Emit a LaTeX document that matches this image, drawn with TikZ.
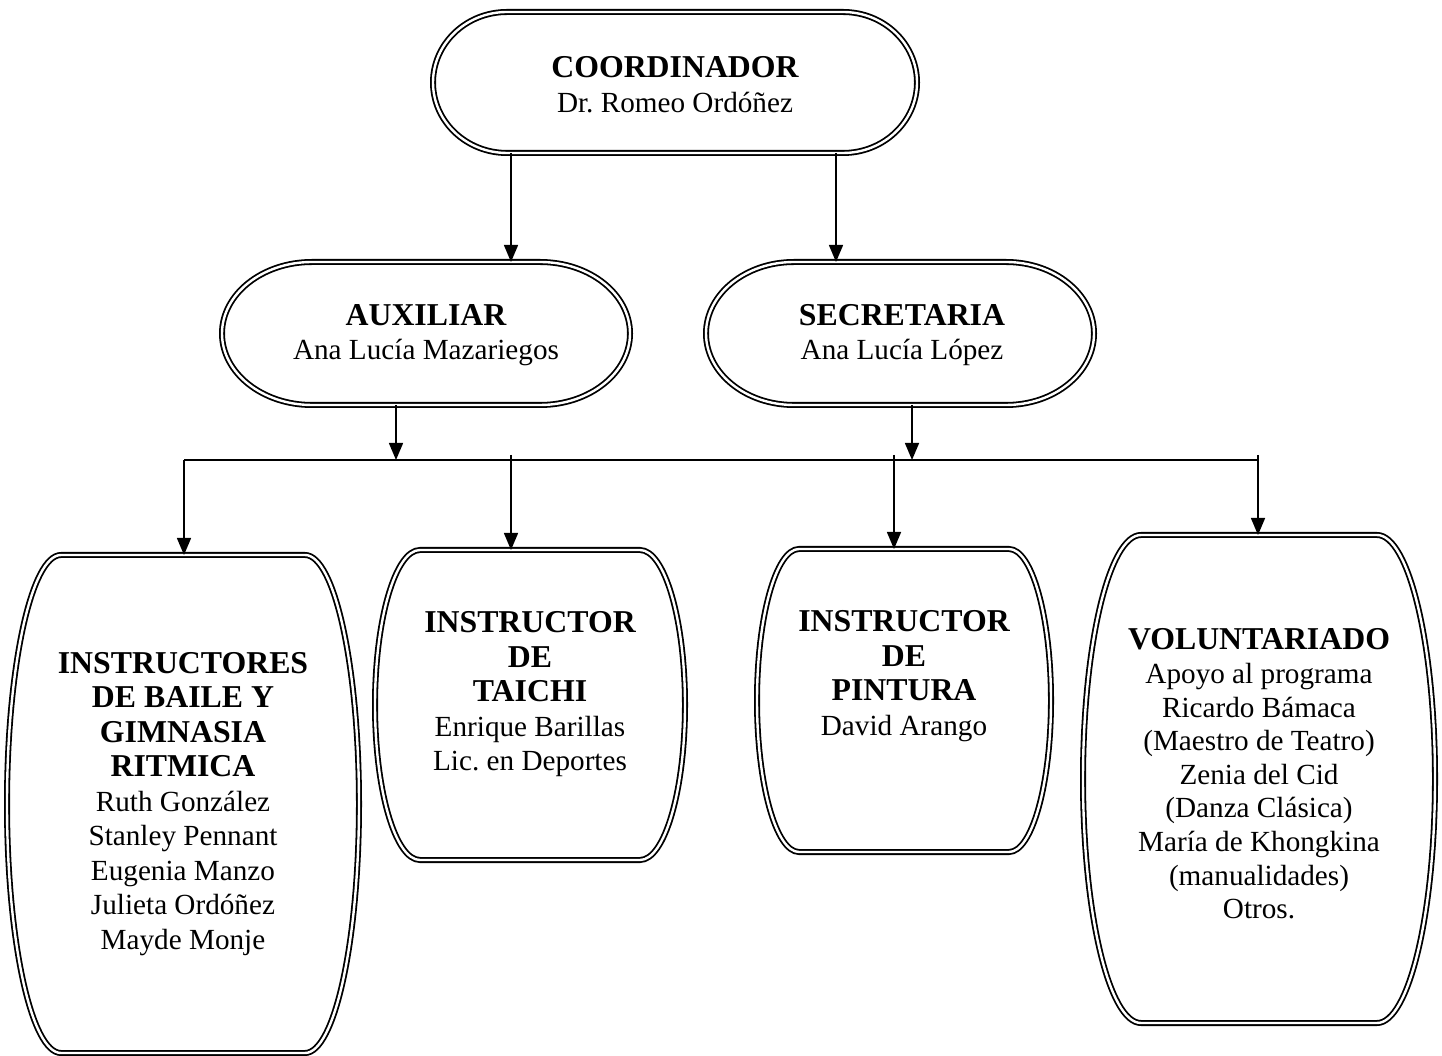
\documentclass[tikz,border=0pt]{standalone}
\usepackage{fontspec}
\setmainfont{Liberation Serif}
\usetikzlibrary{arrows.meta,calc}
\frenchspacing
\newcommand\hd[1]{{\fontsize{31.8}{34.5}\selectfont\bfseries #1}}
\newcommand\stadiumpath[3]{%
  \draw[dbl] ([xshift=#2]#1.north west) -- ([xshift=-#2]#1.north east)
    arc[start angle=90,end angle=-90,x radius=#2,y radius=#3]
    -- ([xshift=#2]#1.south west)
    arc[start angle=270,end angle=90,x radius=#2,y radius=#3] -- cycle;}
\newcommand\barrelpath[5]{% cx, ytop, ybot, W, a
  \draw[dbl] ({#1-#5},#2) -- ({#1+#5},#2)
   .. controls ({#1+#5+0.55*(#4-#5)},#2) and ({#1+#4},{#2-0.45*(#2-#3)/2}) .. ({#1+#4},{(#2+#3)/2})
   .. controls ({#1+#4},{#3+0.45*(#2-#3)/2}) and ({#1+#5+0.55*(#4-#5)},#3) .. ({#1+#5},#3)
   -- ({#1-#5},#3)
   .. controls ({#1-#5-0.55*(#4-#5)},#3) and ({#1-#4},{#3+0.45*(#2-#3)/2}) .. ({#1-#4},{(#2+#3)/2})
   .. controls ({#1-#4},{#2-0.45*(#2-#3)/2}) and ({#1-#5-0.55*(#4-#5)},#2) .. cycle;}
\begin{document}
\begin{tikzpicture}[x=1pt,y=1pt,
  dbl/.style={draw=black, line width=1.8pt, double=white, double distance=2.4pt},
  arr/.style={line width=1.5pt, -{Triangle[length=17pt,width=14pt]}},
  ln/.style={line width=1.5pt},
  txt/.style={align=center, inner sep=0pt, font=\fontsize{29.2}{34.5}\selectfont},
  boxnode/.style={inner sep=0pt, outer sep=0pt, draw=none},
]
\useasboundingbox (0,0) rectangle (1442,1055);

% box frames (invisible nodes)
\node[boxnode, minimum width=484pt, minimum height=141pt] (coord) at (675,972.5) {};
\node[boxnode, minimum width=408pt, minimum height=143pt] (aux) at (426,721.5) {};
\node[boxnode, minimum width=388pt, minimum height=143pt] (sec) at (900,721.5) {};
\node[boxnode, minimum width=352pt, minimum height=498pt] (baile) at (183,251) {};
\node[boxnode, minimum width=310pt, minimum height=310pt] (taichi) at (530,350) {};
\node[boxnode, minimum width=294pt, minimum height=303pt] (pint) at (904,354.5) {};
\node[boxnode, minimum width=352pt, minimum height=488pt] (vol) at (1259,276) {};

% shapes
\stadiumpath{coord}{74}{70.5}
\stadiumpath{aux}{90}{71.5}
\stadiumpath{sec}{88}{71.5}
\barrelpath{183}{500}{2}{176}{122}
\barrelpath{530}{505}{195}{155}{110}
\barrelpath{904}{506}{203}{147}{105}
\barrelpath{1259}{520}{32}{176}{118}

% texts
\node[txt] (tcoord) at (675,970.5) {\hd{COORDINADOR}\\Dr. Romeo Ordóñez};
\node[txt] (taux) at (426,720) {\hd{AUXILIAR}\\Ana Lucía Mazariegos};
\node[txt] (tsec) at (902,720) {\hd{SECRETARIA}\\Ana Lucía López};
\node[txt] (tbaile) at (183,251) {\hd{INSTRUCTORES}\\\hd{DE BAILE Y}\\\hd{GIMNASIA}\\\hd{RITMICA}\\Ruth González\\Stanley Pennant\\Eugenia Manzo\\Julieta Ordóñez\\Mayde Monje};
\node[txt] (ttaichi) at (530,360.5) {\hd{INSTRUCTOR}\\\hd{DE}\\\hd{TAICHI}\\Enrique Barillas\\Lic. en Deportes};
\node[txt] (tpint) at (904,379) {\hd{INSTRUCTOR}\\\hd{DE}\\\hd{PINTURA}\\David Arango};
\node[txt, font=\fontsize{29.2}{33.6}\selectfont] (tvol) at (1259,281) {{\fontsize{31.8}{33.6}\selectfont\bfseries VOLUNTARIADO}\\Apoyo al programa\\Ricardo Bámaca\\(Maestro de Teatro)\\Zenia del Cid\\(Danza Clásica)\\María de Khongkina\\(manualidades)\\Otros.};

% connectors
\coordinate (barL) at (184,595);
\coordinate (barR) at (1258,595);
\draw[arr] ([xshift=-164pt]coord.south) -- ([xshift=-164pt]coord.south |- aux.north);
\draw[arr] ([xshift=161pt]coord.south) -- ([xshift=161pt]coord.south |- sec.north);
\draw[arr] ([xshift=-30pt]aux.south) -- ([xshift=-30pt]aux.south |- barL);
\draw[arr] ([xshift=12pt]sec.south) -- ([xshift=12pt]sec.south |- barL);
\draw[ln] (barL) -- (barR);
\draw[arr] (barL) -- (barL |- baile.north);
\draw[arr] ([yshift=5pt]barL -| taichi.north) ++(-19pt,0) -- ++(0,-95pt);
\draw[arr] ([yshift=5pt]barL -| pint.north) ++(-10pt,0) -- ++(0,-94pt);
\draw[arr] ([yshift=5pt]barR) -- (barR |- vol.north);
\end{tikzpicture}
\end{document}
